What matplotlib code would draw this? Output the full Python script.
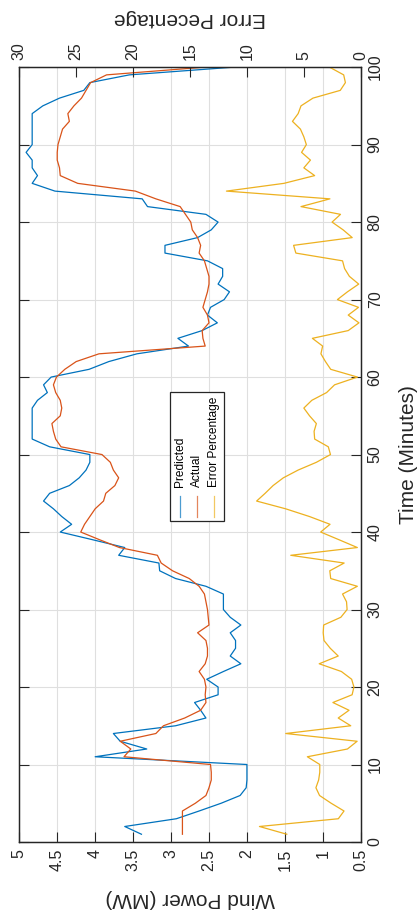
import numpy as np
import matplotlib.pyplot as plt
from matplotlib.lines import Line2D
from matplotlib.patches import Rectangle
from matplotlib.ticker import FormatStrFormatter

plt.rcParams['font.family'] = ['Liberation Sans', 'DejaVu Sans']

# One sample per minute #
minutes = np.arange(1, 101)

# Wind power (MW) #
predicted = [3.39, 3.61, 2.93, 2.63, 2.34, 2.09, 2.01, 2.00, 2.00, 2.00,
             4.00, 3.32, 3.67, 3.76, 2.94, 2.54, 2.61, 2.69, 2.38, 2.38,
             2.53, 2.31, 2.08, 2.22, 2.15, 2.15, 2.22, 2.08, 2.22, 2.31,
             2.31, 2.31, 2.54, 2.94, 3.15, 3.16, 3.69, 3.61, 4.03, 4.46,
             4.31, 4.44, 4.55, 4.68, 4.60, 4.34, 4.21, 4.12, 4.07, 4.07,
             4.60, 4.83, 4.83, 4.83, 4.83, 4.83, 4.76, 4.63, 4.68, 4.58,
             4.08, 3.82, 3.45, 2.77, 2.91, 2.59, 2.39, 2.52, 2.48, 2.30,
             2.23, 2.38, 2.32, 2.32, 2.52, 3.08, 3.08, 2.65, 2.47, 2.38,
             2.54, 3.31, 3.38, 4.53, 4.83, 4.76, 4.83, 4.83, 4.91, 4.83,
             4.83, 4.83, 4.83, 4.83, 4.69, 4.47, 4.15, 4.07, 3.55, 2.17]

actual = [2.85, 2.85, 2.85, 2.85, 2.68, 2.54, 2.50, 2.47, 2.47, 2.48,
          3.62, 3.53, 3.67, 3.20, 3.10, 2.82, 2.61, 2.54, 2.55, 2.54,
          2.56, 2.63, 2.55, 2.52, 2.52, 2.54, 2.65, 2.50, 2.51, 2.52,
          2.54, 2.56, 2.63, 2.76, 2.98, 3.13, 3.18, 3.68, 3.94, 4.19,
          4.14, 4.07, 4.00, 3.89, 3.86, 3.74, 3.69, 3.76, 3.80, 3.91,
          4.45, 4.52, 4.55, 4.57, 4.46, 4.44, 4.46, 4.52, 4.55, 4.51,
          4.40, 4.25, 3.95, 2.55, 2.58, 2.59, 2.50, 2.52, 2.58, 2.55,
          2.52, 2.50, 2.50, 2.53, 2.56, 2.63, 2.61, 2.65, 2.72, 2.74,
          2.81, 2.88, 3.20, 3.47, 4.23, 4.46, 4.47, 4.50, 4.50, 4.49,
          4.46, 4.43, 4.34, 4.36, 4.28, 4.18, 4.12, 4.06, 3.85, 2.55]

# Error percentage (right axis) #
error_pct = [6.5, 8.9, 1.97, 1.47, 2.6, 3.62, 3.94, 3.7, 3.6, 3.6,
             4.69, 1.17, 0.32, 6.59, 0.88, 1.98, 1.03, 2.45, 0.76, 0.6,
             0.8, 1.7, 3.65, 1.98, 2.68, 3.23, 3.3, 3.26, 1.75, 1.2,
             1.25, 1.6, 0.3, 2.64, 2.72, 1.46, 6.15, 0.3, 1.9, 3.52,
             2.7, 4.5, 6.6, 9.15, 8.4, 7.7, 6.8, 5.5, 3.9, 2.66,
             2.85, 4.05, 4.1, 3.9, 4.5, 5.0, 4.3, 3.0, 2.3, 0.29,
             2.64, 3.1, 3.5, 3.35, 4.25, 1.1, 0.16, 1.1, 0.2, 2.05,
             1.17, 0.18, 1.0, 1.42, 1.6, 5.7, 5.9, 0.75, 1.55, 2.52,
             1.78, 5.25, 2.71, 11.8, 6.75, 4.05, 5.0, 4.42, 5.2, 4.78,
             5.0, 5.3, 6.0, 5.5, 5.25, 4.2, 1.8, 1.35, 1.5, 2.75]

power_ticks = [0.5, 1, 1.5, 2, 2.5, 3, 3.5, 4, 4.5, 5]
error_ticks = [0, 5, 10, 15, 20, 25, 30]
time_ticks = [0, 10, 20, 30, 40, 50, 60, 70, 80, 90, 100]
legend_names = ['Predicted', 'Actual', 'Error Percentage']

blue = '#0072BD'
orange = '#D95319'
yellow = '#EDB120'
dark = '#262626'

# The whole chart is turned a quarter turn: time runs up the page #
fig = plt.figure(figsize=(4.19, 9.17), dpi=100)
ax1 = fig.add_axes([0.046, 0.0818, 0.815, 0.845])
ax2 = ax1.twiny()

ax1.plot(predicted, minutes, color=blue, lw=0.9)
ax1.plot(actual, minutes, color=orange, lw=0.9)
ax2.plot(error_pct, minutes, color=yellow, lw=0.9)

ax1.set_xlim(5, 0.5)
ax2.set_xlim(30, 0)
ax1.set_ylim(0, 100)

ax1.set_xticks(power_ticks)
ax1.xaxis.set_major_formatter(FormatStrFormatter('%g'))
ax2.set_xticks(error_ticks)
ax1.set_yticks(time_ticks)

ax1.grid(True, color='#dfdfdf', lw=0.8)
ax1.set_axisbelow(True)

ax1.tick_params(axis='x', direction='in', length=7.5, bottom=True, top=False,
                labelsize=11.5, labelrotation=90, pad=5, colors=dark)
ax2.tick_params(axis='x', direction='in', length=7.5, top=True, bottom=False,
                labelsize=11.5, labelrotation=90, pad=5, colors=dark)
ax1.tick_params(axis='y', direction='in', length=7.5, left=True, right=True,
                labelleft=False, labelright=True, labelrotation=90,
                labelsize=11.5, pad=5, colors=dark)
plt.setp(ax1.get_yticklabels(), va='center')

for ax in (ax1, ax2):
    for s in ax.spines.values():
        s.set_color(dark)
        s.set_linewidth(0.9)

# Axis titles #
ax1.set_xlabel('Wind Power (MW)', fontsize=15, rotation=180, va='center', color=dark)
ax1.xaxis.set_label_coords(0.5, -0.0735)
ax2.set_xlabel('Error Pecentage', fontsize=15, rotation=180, va='center', color=dark)
ax2.xaxis.set_label_coords(0.5, 1.0625)
ax1.yaxis.set_label_position('right')
ax1.set_ylabel('Time (Minutes)', fontsize=15, rotation=90, va='center', ha='center', color=dark)
ax1.yaxis.set_label_coords(1.1385, 0.5)

# Legend, drawn by hand because it is turned too #
box = Rectangle((0.4414, 0.4142), 0.1582, 0.1664, transform=ax2.transAxes,
                facecolor='white', edgecolor=dark, lw=0.9, zorder=10)
ax2.add_patch(box)
for xpos, name, col in zip([0.4707, 0.5214, 0.5703], legend_names, [blue, orange, yellow]):
    ax2.add_line(Line2D([xpos, xpos], [0.4194, 0.4465], transform=ax2.transAxes,
                        color=col, lw=0.9, alpha=0.7, zorder=11))
    ax2.text(xpos, 0.458, name, transform=ax2.transAxes, rotation=90,
             ha='center', va='bottom', fontsize=8.6, color='black', zorder=11)

fig.savefig('out.png', dpi=100)
